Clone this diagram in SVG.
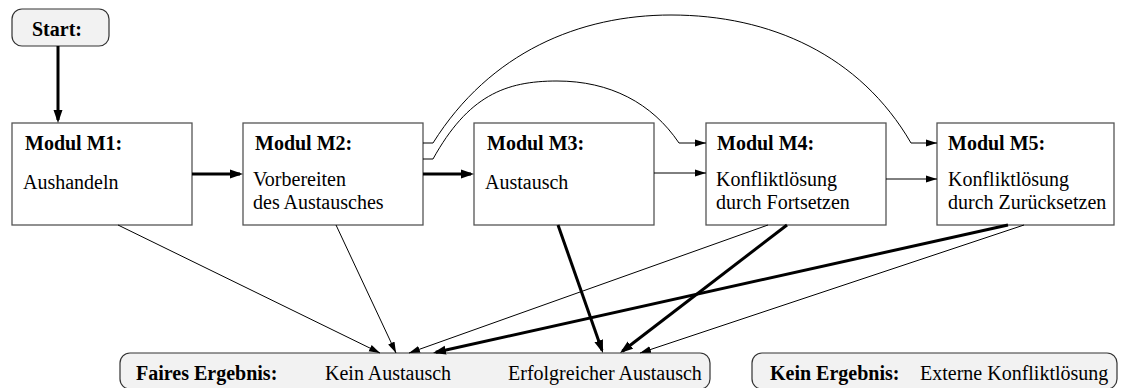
<svg xmlns="http://www.w3.org/2000/svg" width="1124" height="388" viewBox="0 0 1124 388">
<style>
text{font-family:'Liberation Serif','Times New Roman',serif;font-size:20px;fill:#000}
.b{font-weight:bold}
.mod{fill:#fff;stroke:#555;stroke-width:1.3}
.rnd{fill:#f2f2f2;stroke:#333;stroke-width:1.2}
.thin{fill:none;stroke:#000;stroke-width:1;marker-end:url(#ah)}
.thick{fill:none;stroke:#000;stroke-width:3;marker-end:url(#ahb)}
</style>
<defs>
<marker id="ah" markerUnits="userSpaceOnUse" markerWidth="12" markerHeight="8" refX="11" refY="4" orient="auto"><path d="M0,0.5 L11,4 L0,7.5 z" fill="#000"/></marker>
<marker id="ahb" markerUnits="userSpaceOnUse" markerWidth="14" markerHeight="10" refX="10" refY="5" orient="auto"><path d="M0,0.5 L13,5 L0,9.5 z" fill="#000"/></marker>
</defs>
<g id="start"><rect class="rnd" x="12" y="9" width="97" height="37" rx="10"/><text class="b" x="32" y="36">Start:</text></g>
<g id="m1"><rect class="mod" x="12" y="123" width="180" height="102"/><text class="b" x="25" y="150">Modul M1:</text><text x="23" y="189">Aushandeln</text></g>
<g id="m2"><rect class="mod" x="243" y="123" width="180" height="102"/><text class="b" x="255" y="150">Modul M2:</text><text x="253" y="186">Vorbereiten</text><text x="253" y="209">des Austausches</text></g>
<g id="m3"><rect class="mod" x="474" y="123" width="180" height="102"/><text class="b" x="487" y="150">Modul M3:</text><text x="485" y="189">Austausch</text></g>
<g id="m4"><rect class="mod" x="706" y="123" width="180" height="102"/><text class="b" x="717" y="150">Modul M4:</text><text x="716" y="186">Konfliktlösung</text><text x="716" y="209">durch Fortsetzen</text></g>
<g id="m5"><rect class="mod" x="937" y="123" width="177" height="102"/><text class="b" x="948" y="150">Modul M5:</text><text x="948" y="186">Konfliktlösung</text><text x="948" y="209">durch Zurücksetzen</text></g>
<g id="fair"><rect class="rnd" x="120" y="353" width="590" height="36" rx="10"/><text class="b" x="136" y="380">Faires Ergebnis:</text><text x="325" y="380">Kein Austausch</text><text x="508" y="380">Erfolgreicher Austausch</text></g>
<g id="kein"><rect class="rnd" x="752" y="353" width="365" height="36" rx="10"/><text class="b" x="770" y="380">Kein Ergebnis:</text><text x="920" y="380">Externe Konfliktlösung</text></g>
<g id="connectors">
<path class="thick" d="M58,46 L58,120"/>
<path class="thick" d="M192,174 L240,174"/>
<path class="thick" d="M423,174 L471,174"/>
<path class="thin" d="M654,173 L706,173"/>
<path class="thin" d="M886,179 L937,179"/>
<path class="thin" d="M423,159 L433,159 C468,96 505,81 557,81 C610,81 652,103 679,143 L706,143"/>
<path class="thin" d="M423,143 L433,143 C490,52 580,15 671,15 C770,15 860,55 911,143 L937,143"/>
<path class="thin" d="M118,225 L380,353"/>
<path class="thin" d="M336,225 L396,353"/>
<path class="thin" d="M768,225 L409,353"/>
<path class="thin" d="M1024,225 L640,353"/>
<path class="thick" d="M558,225 L602,350.2"/>
<path class="thick" d="M787,225 L622.4,351.2"/>
<path class="thick" d="M1008,225 L435.9,352.3"/>
</g>
</svg>
